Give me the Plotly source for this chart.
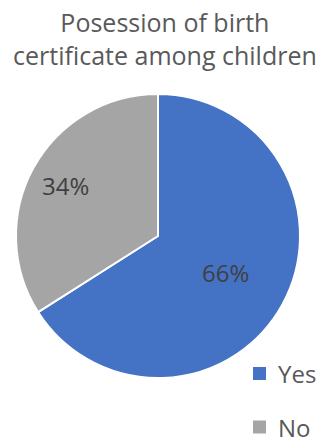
import math
import plotly.graph_objects as go

# Share of children with a birth certificate
labels = ["Yes", "No"]
values = [66, 34]
colors = ["#4472C4", "#A5A5A5"]

title_text = "Posession of birth<br>certificate among children"
FONT = "Open Sans"

W, H = 329, 441
# pie placement in pixels (centre and radius)
CX, CY, R = 158, 236, 142
# how far out along each slice's bisector its percentage sits (fraction of radius)
label_radius = [0.54, 0.74]
# legend layout in pixels: swatch centre x, first row centre y, row pitch, swatch size
LEG_X, LEG_Y0, LEG_DY, SW = 259.5, 373.5, 53.5, 13

fig = go.Figure()

fig.add_trace(go.Pie(
    labels=labels,
    values=values,
    sort=False,
    direction="clockwise",
    rotation=0,
    marker=dict(colors=colors, line=dict(color="white", width=2)),
    textinfo="none",
    showlegend=False,
    hoverinfo="label+percent",
    domain=dict(x=[(CX - R) / W, (CX + R) / W], y=[1 - (CY + R) / H, 1 - (CY - R) / H]),
))

# percentage labels placed along each slice's bisector
total = sum(values)
start = 0.0
annotations = []
for v, rf in zip(values, label_radius):
    mid = (start + v / 2) / total * 2 * math.pi  # clockwise from 12 o'clock
    start += v
    px = CX + rf * R * math.sin(mid)
    py = CY - rf * R * math.cos(mid)
    annotations.append(dict(
        x=px / W, y=1 - py / H, xref="paper", yref="paper",
        text=f"{v / total:.0%}", showarrow=False,
        xanchor="center", yanchor="middle",
        font=dict(family=FONT, size=24, color="#404040"),
    ))

# chart title
annotations.append(dict(
    x=0.503, y=1 - 3 / H, xref="paper", yref="paper",
    xanchor="center", yanchor="top", showarrow=False,
    text=title_text, align="center",
    font=dict(family=FONT, size=25, color="#595959"),
))

# legend: coloured square swatch plus category name for each slice
shapes = []
for i, (lab, col) in enumerate(zip(labels, colors)):
    cy = LEG_Y0 + i * LEG_DY
    shapes.append(dict(
        type="rect", xref="paper", yref="paper",
        x0=(LEG_X - SW / 2) / W, x1=(LEG_X + SW / 2) / W,
        y0=1 - (cy + SW / 2) / H, y1=1 - (cy - SW / 2) / H,
        fillcolor=col, line=dict(width=0),
    ))
    annotations.append(dict(
        x=(LEG_X + 16) / W, y=1 - cy / H, xref="paper", yref="paper",
        xanchor="left", yanchor="middle", showarrow=False,
        text=lab, font=dict(family=FONT, size=24, color="#595959"),
    ))

fig.update_layout(
    width=W, height=H,
    margin=dict(l=0, r=0, t=0, b=0),
    paper_bgcolor="white", plot_bgcolor="white",
    annotations=annotations,
    shapes=shapes,
    showlegend=False,
)

fig.write_html("out.html")
